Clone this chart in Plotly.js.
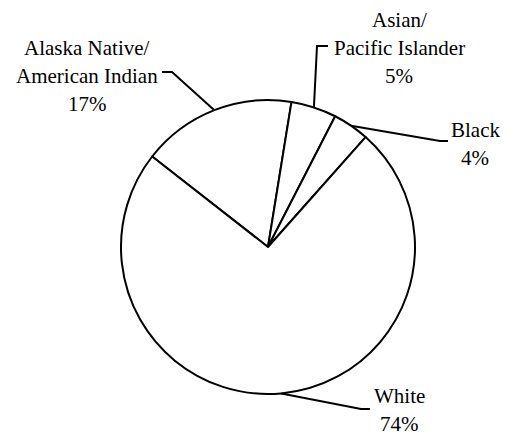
<!DOCTYPE html>
<html><head><meta charset="utf-8">
<script src="https://cdn.plot.ly/plotly-3.0.1.min.js"></script>
<style>
html,body{margin:0;padding:0;background:#fff}
#chart text, #chart tspan { font-family: 'Liberation Serif', 'Times New Roman', serif !important; }
</style></head>
<body><div id="chart" style="width:514px;height:434px"></div>
<script>
const categories = ["Alaska Native/<br>American Indian", "Asian/<br>Pacific Islander", "Black", "White"];
const values = [17, 5, 4, 74];

// layout (pixels): centre x of label, centre y of its first line, elbow and end of leader
const W = 514, H = 434, CX = 268, CY = 247, R = 147, ROT = -52, LINE = 28;
const labelPos = [[87, 48], [399, 20], [475, 130], [399, 396]];
const elbowPts = [[172, 72], [317, 46], [440, 141], [361, 409]];
const endPts   = [[162, 72], [328, 46], [448, 141], [370, 409]];
const FONT = 'Liberation Serif';

const px = x => x / W;
const py = y => 1 - y / H;
const total = values.reduce((a, b) => a + b, 0);

const shapes = [];
const annotations = [];
let cum = 0;
values.forEach((v, i) => {
  const a = (ROT + (cum + v / 2) / total * 360) * Math.PI / 180;
  cum += v;
  const ex = CX + R * Math.sin(a), ey = CY - R * Math.cos(a);
  shapes.push({
    type: 'path', xref: 'paper', yref: 'paper',
    path: `M ${px(ex)} ${py(ey)} L ${px(elbowPts[i][0])} ${py(elbowPts[i][1])} L ${px(endPts[i][0])} ${py(endPts[i][1])}`,
    line: {color: 'black', width: 2}
  });
  const lines = categories[i].split('<br>').concat([Math.round(v / total * 100) + '%']);
  lines.forEach((t, k) => {
    annotations.push({
      xref: 'paper', yref: 'paper', x: px(labelPos[i][0]), y: py(labelPos[i][1] + k * LINE),
      xanchor: 'center', yanchor: 'middle', align: 'center', showarrow: false,
      text: t, borderpad: 0,
      font: {family: FONT, size: 21, color: 'black'}
    });
  });
});

const trace = {
  type: 'pie', values: values, labels: categories, sort: false,
  direction: 'clockwise', rotation: ROT, textinfo: 'none', hoverinfo: 'none',
  marker: {colors: values.map(() => 'white'), line: {color: 'black', width: 2}},
  domain: {x: [px(CX - R), px(CX + R)], y: [py(CY + R), py(CY - R)]},
  showlegend: false
};

Plotly.newPlot('chart', [trace], {
  width: W, height: H, margin: {l: 0, r: 0, t: 0, b: 0},
  paper_bgcolor: 'white', plot_bgcolor: 'white', showlegend: false,
  font: {family: FONT, size: 21},
  shapes: shapes, annotations: annotations
}, {displayModeBar: false});
</script></body></html>
